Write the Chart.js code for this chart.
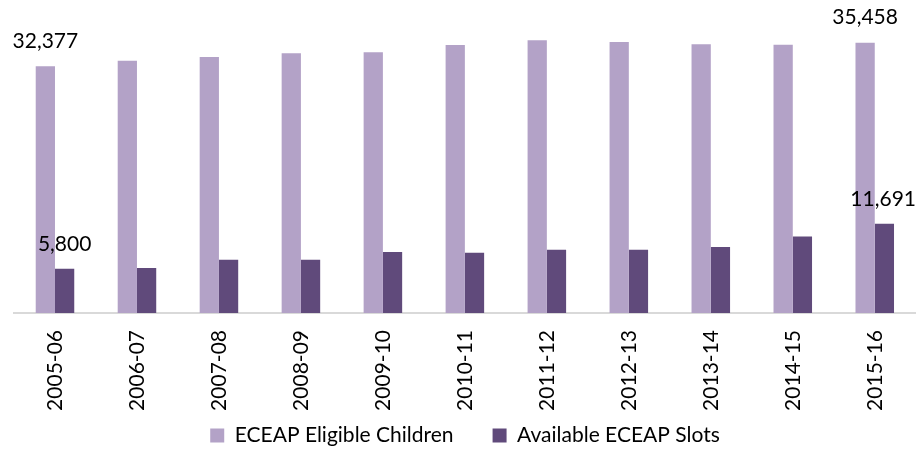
<!DOCTYPE html>
<html>
<head>
<meta charset="utf-8">
<script src="https://cdn.jsdelivr.net/npm/chart.js@4/dist/chart.umd.min.js"></script>
<style>
  html, body { margin: 0; padding: 0; background: #fff; }
  #wrap { width: 917px; height: 450px; }
</style>
</head>
<body>
<div id="wrap"><canvas id="grafico"></canvas></div>
<script>
const years = ['2005-06', '2006-07', '2007-08', '2008-09', '2009-10', '2010-11',
               '2011-12', '2012-13', '2013-14', '2014-15', '2015-16'];
const eligible = [32377, 33090, 33580, 34060, 34190, 35150, 35760, 35540, 35240, 35190, 35458];
const slots = [5800, 5900, 6990, 6990, 7990, 7900, 8290, 8290, 8650, 10030, 11691];

const fontName = 'Lato, "Open Sans", sans-serif';

// labels only on first and last bar of each series
const endLabels = {
    id: 'endLabels',
    afterLayout(chart) {
        // legend items are spaced wide, pull the row up under the axis labels
        const lg = chart.legend;
        const h = lg.height;
        lg.top = 386;
        lg.bottom = lg.top + h;
    },
    afterDatasetsDraw(chart) {
        const c = chart.ctx;
        c.save();
        c.font = '21px ' + fontName;
        c.fillStyle = '#000';
        c.textAlign = 'center';
        c.textBaseline = 'middle';
        chart.data.datasets.forEach((ds, d) => {
            const meta = chart.getDatasetMeta(d);
            [0, ds.data.length - 1].forEach(i => {
                const bar = meta.data[i];
                const txt = ds.data[i].toLocaleString('en-US');
                const w = c.measureText(txt).width;
                let x = bar.x;
                if (x + w / 2 > chart.width - 1) x = chart.width - 1 - w / 2;
                c.fillText(txt, x, bar.y - 25);
            });
        });
        c.restore();
    }
};

new Chart(document.getElementById('grafico'), {
    type: 'bar',
    data: {
        labels: years,
        datasets: [{
            label: 'ECEAP Eligible Children',
            data: eligible,
            backgroundColor: '#b3a2c7',
            barPercentage: 1,
            categoryPercentage: 0.47
        }, {
            label: 'Available ECEAP Slots',
            data: slots,
            backgroundColor: '#604a7b',
            barPercentage: 1,
            categoryPercentage: 0.47
        }]
    },
    options: {
        responsive: true,
        maintainAspectRatio: false,
        animation: false,
        layout: { padding: { top: 8, left: 14, right: 1, bottom: -30 } },
        plugins: {
            tooltip: { enabled: false },
            legend: {
                position: 'bottom',
                labels: {
                    font: { family: fontName, size: 21 },
                    color: '#000',
                    boxWidth: 14,
                    boxHeight: 14,
                    padding: 39
                }
            }
        },
        scales: {
            x: {
                grid: { display: false, drawTicks: false },
                border: { display: true, color: '#d9d9d9', width: 2 },
                ticks: {
                    color: '#000',
                    font: { family: fontName, size: 21 },
                    minRotation: 90,
                    maxRotation: 90,
                    padding: 17
                },
                afterFit(scale) { scale.height = 97; }
            },
            y: {
                display: false,
                min: 0,
                max: 40000
            }
        }
    },
    plugins: [endLabels]
});
</script>
</body>
</html>
